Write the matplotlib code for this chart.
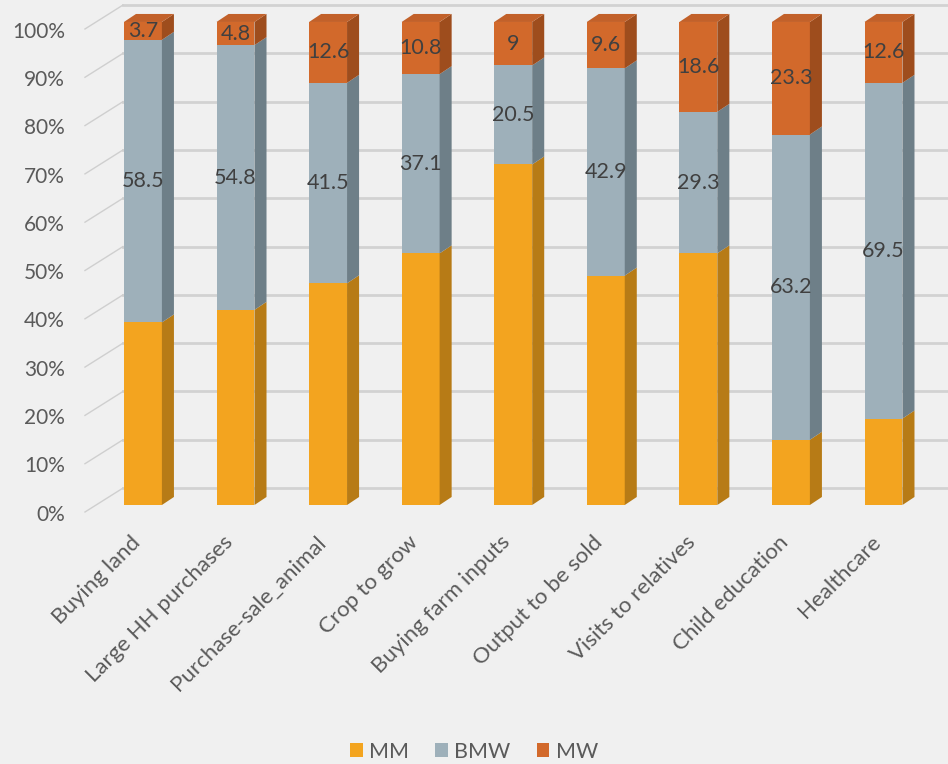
import numpy as np
import matplotlib
matplotlib.use("Agg")
from matplotlib import pyplot as plt
from matplotlib.patches import Polygon, Patch

categories = ["Buying land", "Large HH purchases", "Purchase-sale_animal", "Crop to grow",
              "Buying farm inputs", "Output to be sold", "Visits to relatives",
              "Child education", "Healthcare"]
mw = [3.7, 4.8, 12.6, 10.8, 9, 9.6, 18.6, 23.3, 12.6]
bmw = [58.5, 54.8, 41.5, 37.1, 20.5, 42.9, 29.3, 63.2, 69.5]
mm = [37.8, 40.4, 45.9, 52.1, 70.5, 47.5, 52.1, 13.5, 17.9]
series = ["MM", "BMW", "MW"]
yticks = [0, 10, 20, 30, 40, 50, 60, 70, 80, 90, 100]

# front, side, top colours per series
cols = {
    "MM": ("#F3A41F", "#B77B16", "#E09A1E"),
    "BMW": ("#9EB0BA", "#6E7F88", "#A9B9C2"),
    "MW": ("#D2692B", "#9E4D1D", "#C2612A"),
}

plt.rcParams['font.family'] = ['Lato', 'DejaVu Sans']
bg = "#F0F0F0"
fig = plt.figure(figsize=(9.48, 7.64), dpi=100, facecolor=bg)
ax = fig.add_axes([0, 259 / 764, 1, 505 / 764])
ax.set_facecolor(bg)
ax.set_xlim(-1.544, 8.697)
ax.set_ylim(0, 104.55)
ax.axis("off")

w = 0.41
dx, dy = 0.13, 1.66        # bar depth
wx0, wy = -0.216, 3.5      # back wall offset
sx0, sy = -0.626, -1.45    # side wall front edge

# walls / gridlines
for v in yticks:
    ax.plot([wx0, 8.697], [v + wy, v + wy], color="#D2D2D2", lw=2, zorder=1, clip_on=False)
    ax.plot([sx0, wx0], [v + sy, v + wy], color="#CFCFCF", lw=1, zorder=1, clip_on=False)
    ax.text(-0.842, v - 2.0, f"{v}%", ha="right", va="center", fontsize=15, color="#5A5A5A")

x = np.arange(len(categories))
bottom = np.zeros(len(categories))
for name, vals in zip(series, [mm, bmw, mw]):
    vals = np.array(vals, dtype=float)
    front, side, top = cols[name]
    ax.bar(x, vals, w, bottom=bottom, color=front, zorder=3, linewidth=0)
    for i in range(len(x)):
        b, t = bottom[i], bottom[i] + vals[i]
        xr = x[i] + w / 2
        ax.add_patch(Polygon([(xr, b), (xr + dx, b + dy), (xr + dx, t + dy), (xr, t)],
                             closed=True, facecolor=side, edgecolor="none", zorder=3))
        if name == "MW":
            xl = x[i] - w / 2
            ax.add_patch(Polygon([(xl, t), (xr, t), (xr + dx, t + dy), (xl + dx, t + dy)],
                                 closed=True, facecolor=top, edgecolor="none", zorder=3))
        if name != "MM":
            lbl = f"{vals[i]:g}"
            ax.text(x[i], b + vals[i] / 2, lbl, ha="center", va="center", fontsize=15.5,
                    color="#404040", zorder=5)
    bottom += vals

for i, c in enumerate(categories):
    ax.text(x[i] - 0.14, -5.6, c, ha="right", va="top", rotation=45, rotation_mode="anchor",
            fontsize=16, color="#5A5A5A")

handles = [Patch(facecolor=cols[s][0], label=s) for s in series]
fig.legend(handles=handles, loc="center", bbox_to_anchor=(0.5, 0.016), ncol=3, frameon=False,
           fontsize=15.5, handlelength=0.6, handleheight=0.6, handletextpad=0.3,
           columnspacing=1.2, labelcolor="#5A5A5A")

fig.savefig("out.png", dpi=100, facecolor=bg)
